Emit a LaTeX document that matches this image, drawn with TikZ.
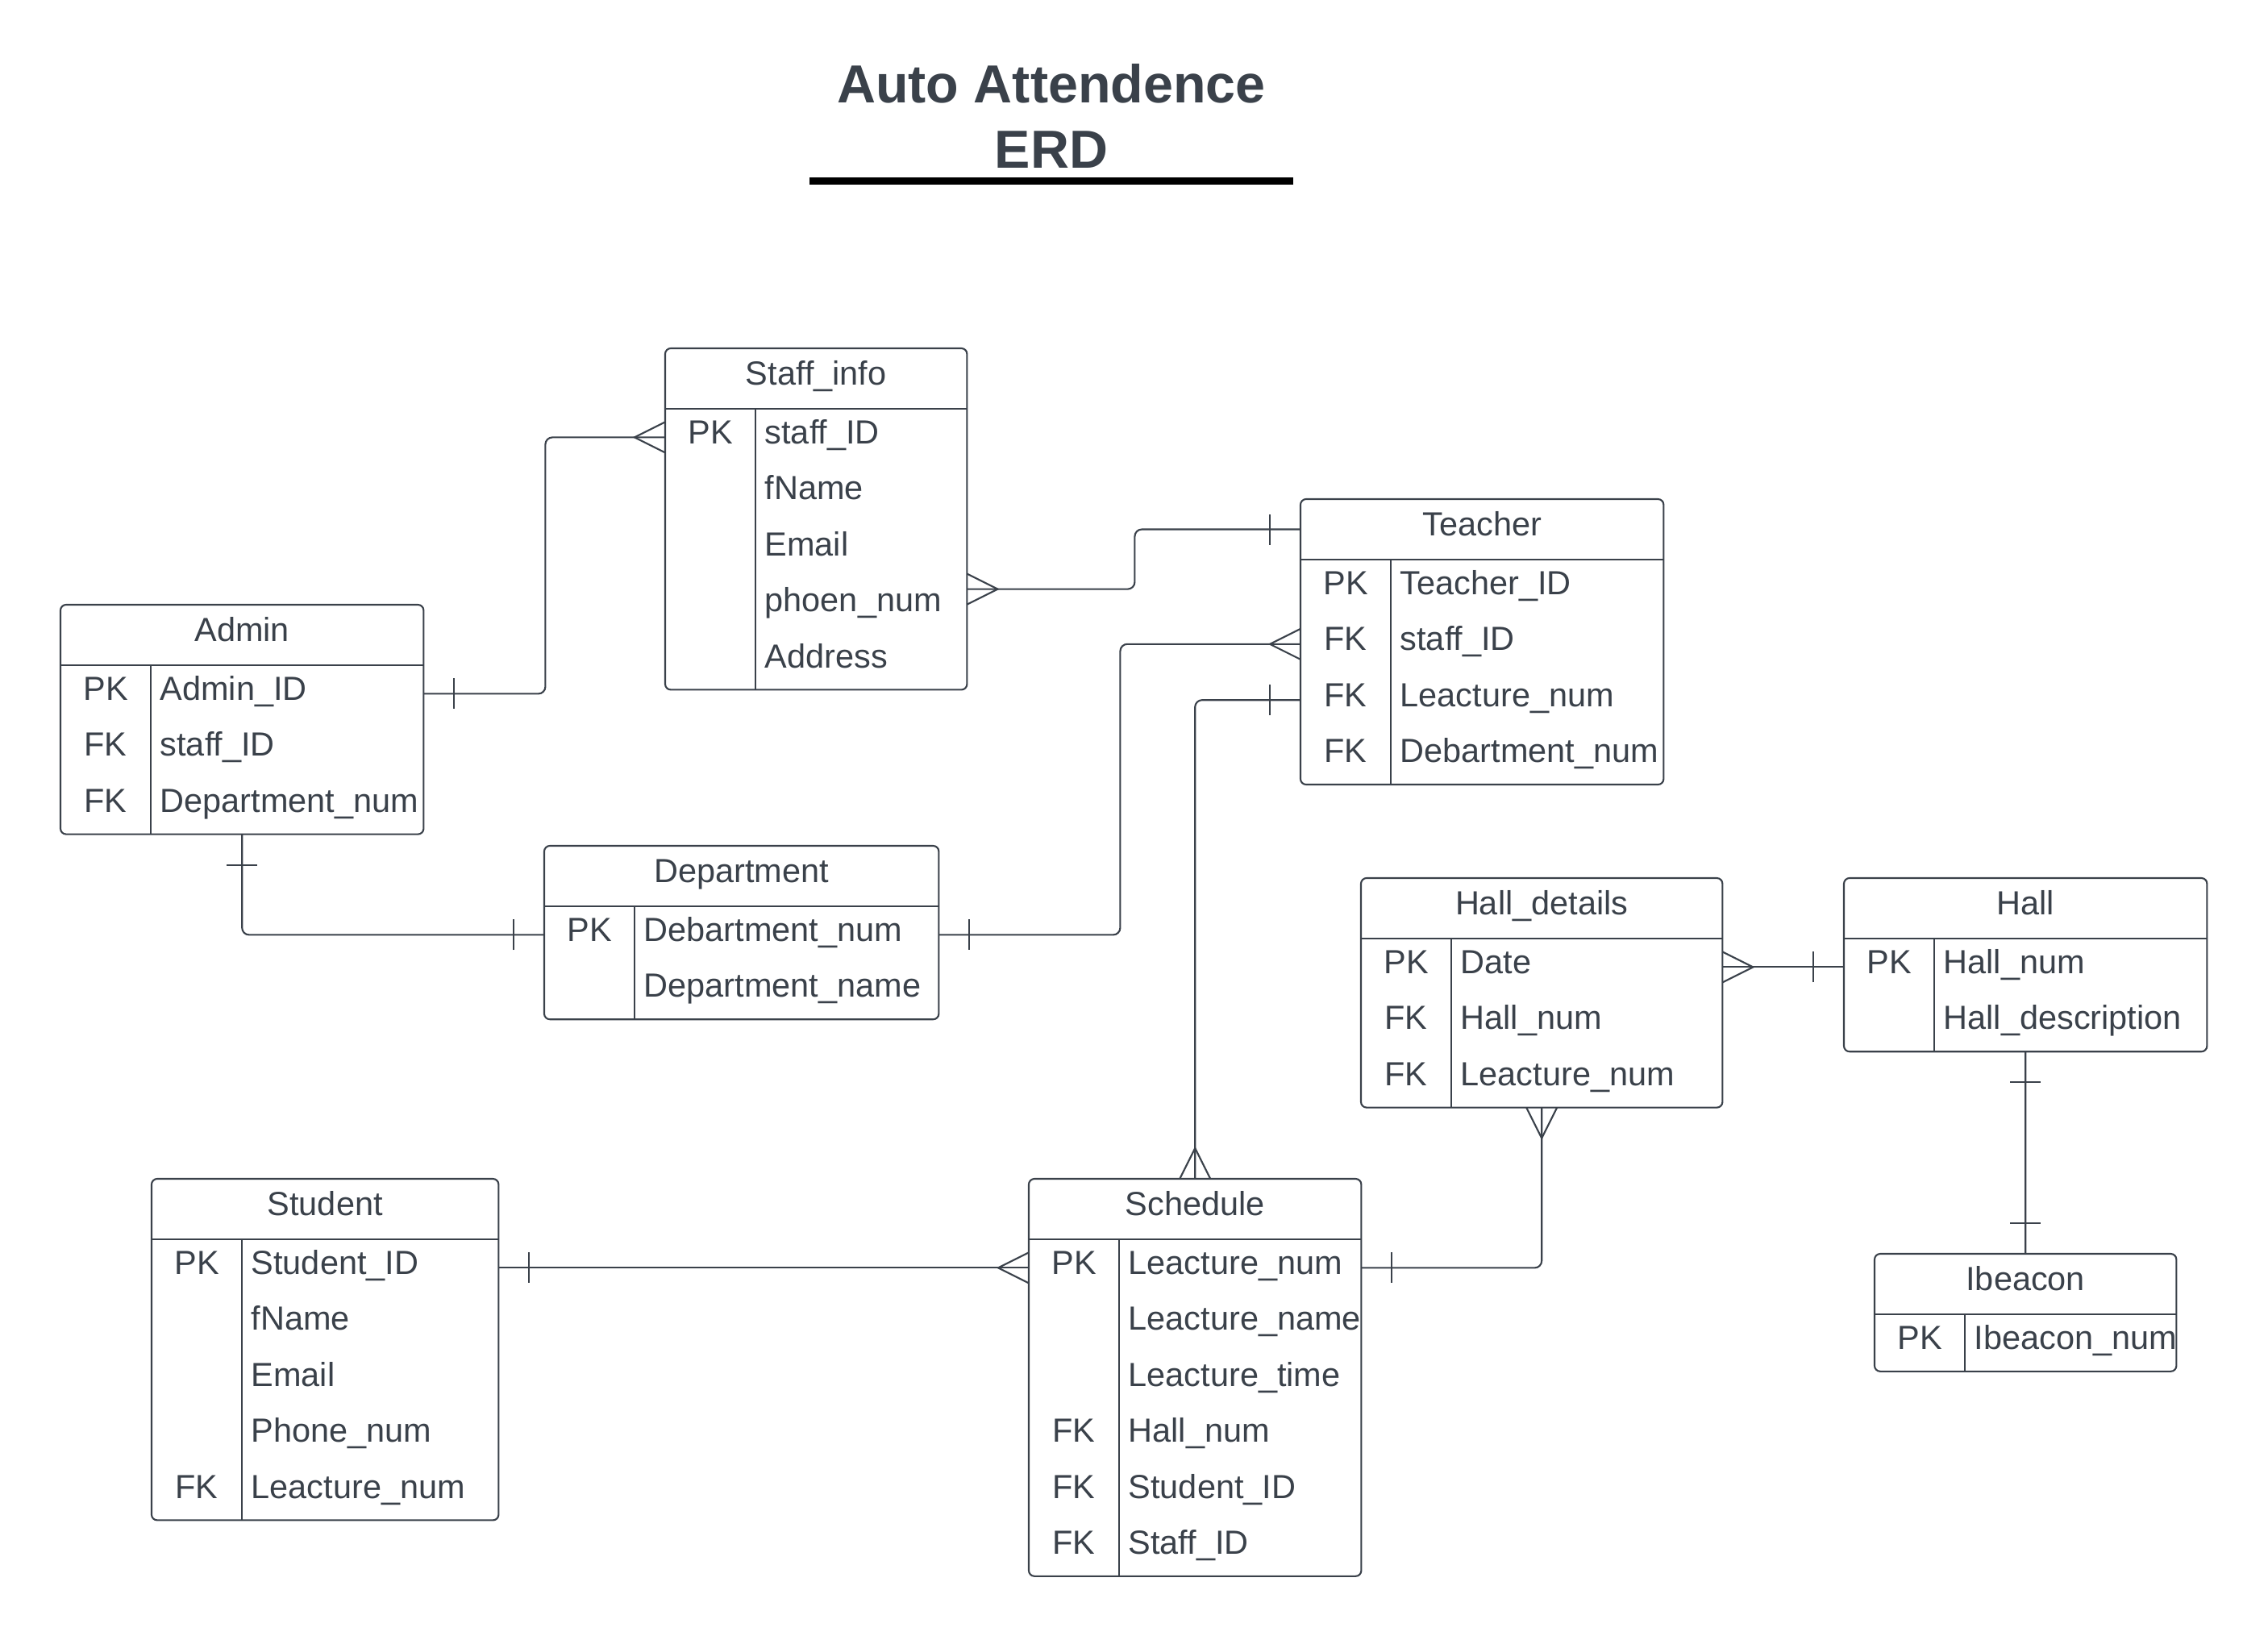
\documentclass[tikz,border=0pt]{standalone}
\usepackage{fontspec}
\setmainfont{Liberation Sans}
\usepackage{tikz}
\usetikzlibrary{positioning,calc}

\definecolor{erdgray}{HTML}{3A414A}

\tikzset{
  erdfont/.style={font=\fontsize{11.8}{14}\selectfont, text=erdgray},
  tabline/.style={draw=erdgray, line width=0.6pt},
  tabhead/.style={erdfont, minimum height=0.736cm, inner sep=0pt, text height=0.3cm, text depth=0.14cm},
  tabrow/.style={minimum height=0.694cm, inner sep=0pt},
  keytxt/.style={erdfont, inner sep=0pt, text height=0.3cm, text depth=0.14cm},
  fieldtxt/.style={keytxt, anchor=west},
  titletxt/.style={font=\fontsize{18.9}{22.9}\selectfont\bfseries, text=erdgray, inner sep=0pt},
  conn/.style={draw=erdgray, line width=0.6pt, rounded corners=2.5pt},
  symline/.style={draw=erdgray, line width=0.6pt},
  onebar/.pic={\draw[symline] (-0.38,-0.19) -- (-0.38,0.19);},
  crowfoot/.pic={\draw[symline] (0,0.19) -- (-0.38,0) -- (0,-0.19);},
}

% #1 name, #2 title, #3 x, #4 top, #5 width, #6 key/attribute rows
\newcommand{\erdtable}[6]{%
  \node[tabhead, minimum width=#5cm, anchor=north west] (#1) at (#3,#4) {#2};
  \foreach \pk/\attr [count=\i] in {#6} {
    \node[tabrow, minimum width=#5cm, anchor=north west] (#1-\i) at ($(#1.south west)+(0,{-0.694*(\i-1)})$) {};
    \node[keytxt] (#1-\i-k) at ($(#1-\i.west)+(0.56,0)$) {\pk};
    \node[fieldtxt] (#1-\i-f) at ($(#1-\i.west)+(1.23,0)$) {\attr};
    \xdef\lastrow{\i}
  }
  \draw[tabline, rounded corners=2pt] (#1.north west) rectangle (#1-\lastrow.south east);
  \draw[tabline] (#1.south west) -- (#1.south east);
  \draw[tabline] ($(#1.south west)+(1.12,0)$) -- ($(#1-\lastrow.south west)+(1.12,0)$);
}

\begin{document}
\begin{tikzpicture}
    \path[use as bounding box, fill=white] (0,0) rectangle (28.13,-20.29);

    % Title
    \node[titletxt, anchor=base] (title1) at (13.04,-1.277) {Auto Attendence};
    \node[titletxt, anchor=base] (title2) at (13.04,-2.083) {ERD};
    \draw[line width=2.6pt] (10.04,-2.245) -- (16.04,-2.245);

    % Tables
    \erdtable{staff}{Staff\_info}{8.25}{-4.32}{3.73}{PK/staff\_ID, /fName, /Email, /phoen\_num, /Address}
    \erdtable{teacher}{Teacher}{16.13}{-6.19}{4.49}{PK/Teacher\_ID, FK/staff\_ID, FK/Leacture\_num, FK/Debartment\_num}
    \erdtable{admin}{Admin}{0.75}{-7.50}{4.49}{PK/Admin\_ID, FK/staff\_ID, FK/Department\_num}
    \erdtable{dept}{Department}{6.75}{-10.49}{4.88}{PK/Debartment\_num, /Department\_name}
    \erdtable{halldet}{Hall\_details}{16.88}{-10.89}{4.47}{PK/Date, FK/Hall\_num, FK/Leacture\_num}
    \erdtable{hall}{Hall}{22.87}{-10.89}{4.49}{PK/Hall\_num, /Hall\_description}
    \erdtable{student}{Student}{1.88}{-14.62}{4.29}{PK/Student\_ID, /fName, /Email, /Phone\_num, FK/Leacture\_num}
    \erdtable{sched}{Schedule}{12.76}{-14.62}{4.11}{PK/Leacture\_num, /Leacture\_name, /Leacture\_time, FK/Hall\_num, FK/Student\_ID, FK/Staff\_ID}
    \erdtable{ibeacon}{Ibeacon}{23.25}{-15.55}{3.73}{PK/Ibeacon\_num}

    % Admin -- Staff_info
    \draw[conn] (admin-1.east) -- ++(1.51,0) |- (staff-1.west);
    \pic[rotate=180] at (admin-1.east) {onebar};
    \pic at (staff-1.west) {crowfoot};

    % Staff_info -- Teacher
    \coordinate (staffout) at ($(staff-4.east)+(0,0.2)$);
    \draw[conn] (staffout) -- ++(2.08,0) |- (teacher.west);
    \pic[rotate=180] at (staffout) {crowfoot};
    \pic at (teacher.west) {onebar};

    % Department -- Teacher
    \draw[conn] (dept-1.east) -- ++(2.25,0) |- (teacher-2.west);
    \pic[rotate=180] at (dept-1.east) {onebar};
    \pic at (teacher-2.west) {crowfoot};

    % Teacher -- Schedule
    \draw[conn] (teacher-3.west) -| (sched.north);
    \pic at (teacher-3.west) {onebar};
    \pic[rotate=-90] at (sched.north) {crowfoot};

    % Admin -- Department
    \draw[conn] (admin-3.south) |- (dept-1.west);
    \pic[rotate=90] at (admin-3.south) {onebar};
    \pic at (dept-1.west) {onebar};

    % Student -- Schedule
    \draw[conn] (student-1.east) -- (sched-1.west);
    \pic[rotate=180] at (student-1.east) {onebar};
    \pic at (sched-1.west) {crowfoot};

    % Schedule -- Hall_details
    \draw[conn] (sched-1.east) -| (halldet-3.south);
    \pic[rotate=180] at (sched-1.east) {onebar};
    \pic[rotate=90] at (halldet-3.south) {crowfoot};

    % Hall_details -- Hall
    \draw[conn] (halldet-1.east) -- (hall-1.west);
    \pic[rotate=180] at (halldet-1.east) {crowfoot};
    \pic at (hall-1.west) {onebar};

    % Hall -- Ibeacon
    \draw[conn] (hall-2.south) -- (ibeacon.north);
    \pic[rotate=90] at (hall-2.south) {onebar};
    \pic[rotate=-90] at (ibeacon.north) {onebar};
\end{tikzpicture}
\end{document}
